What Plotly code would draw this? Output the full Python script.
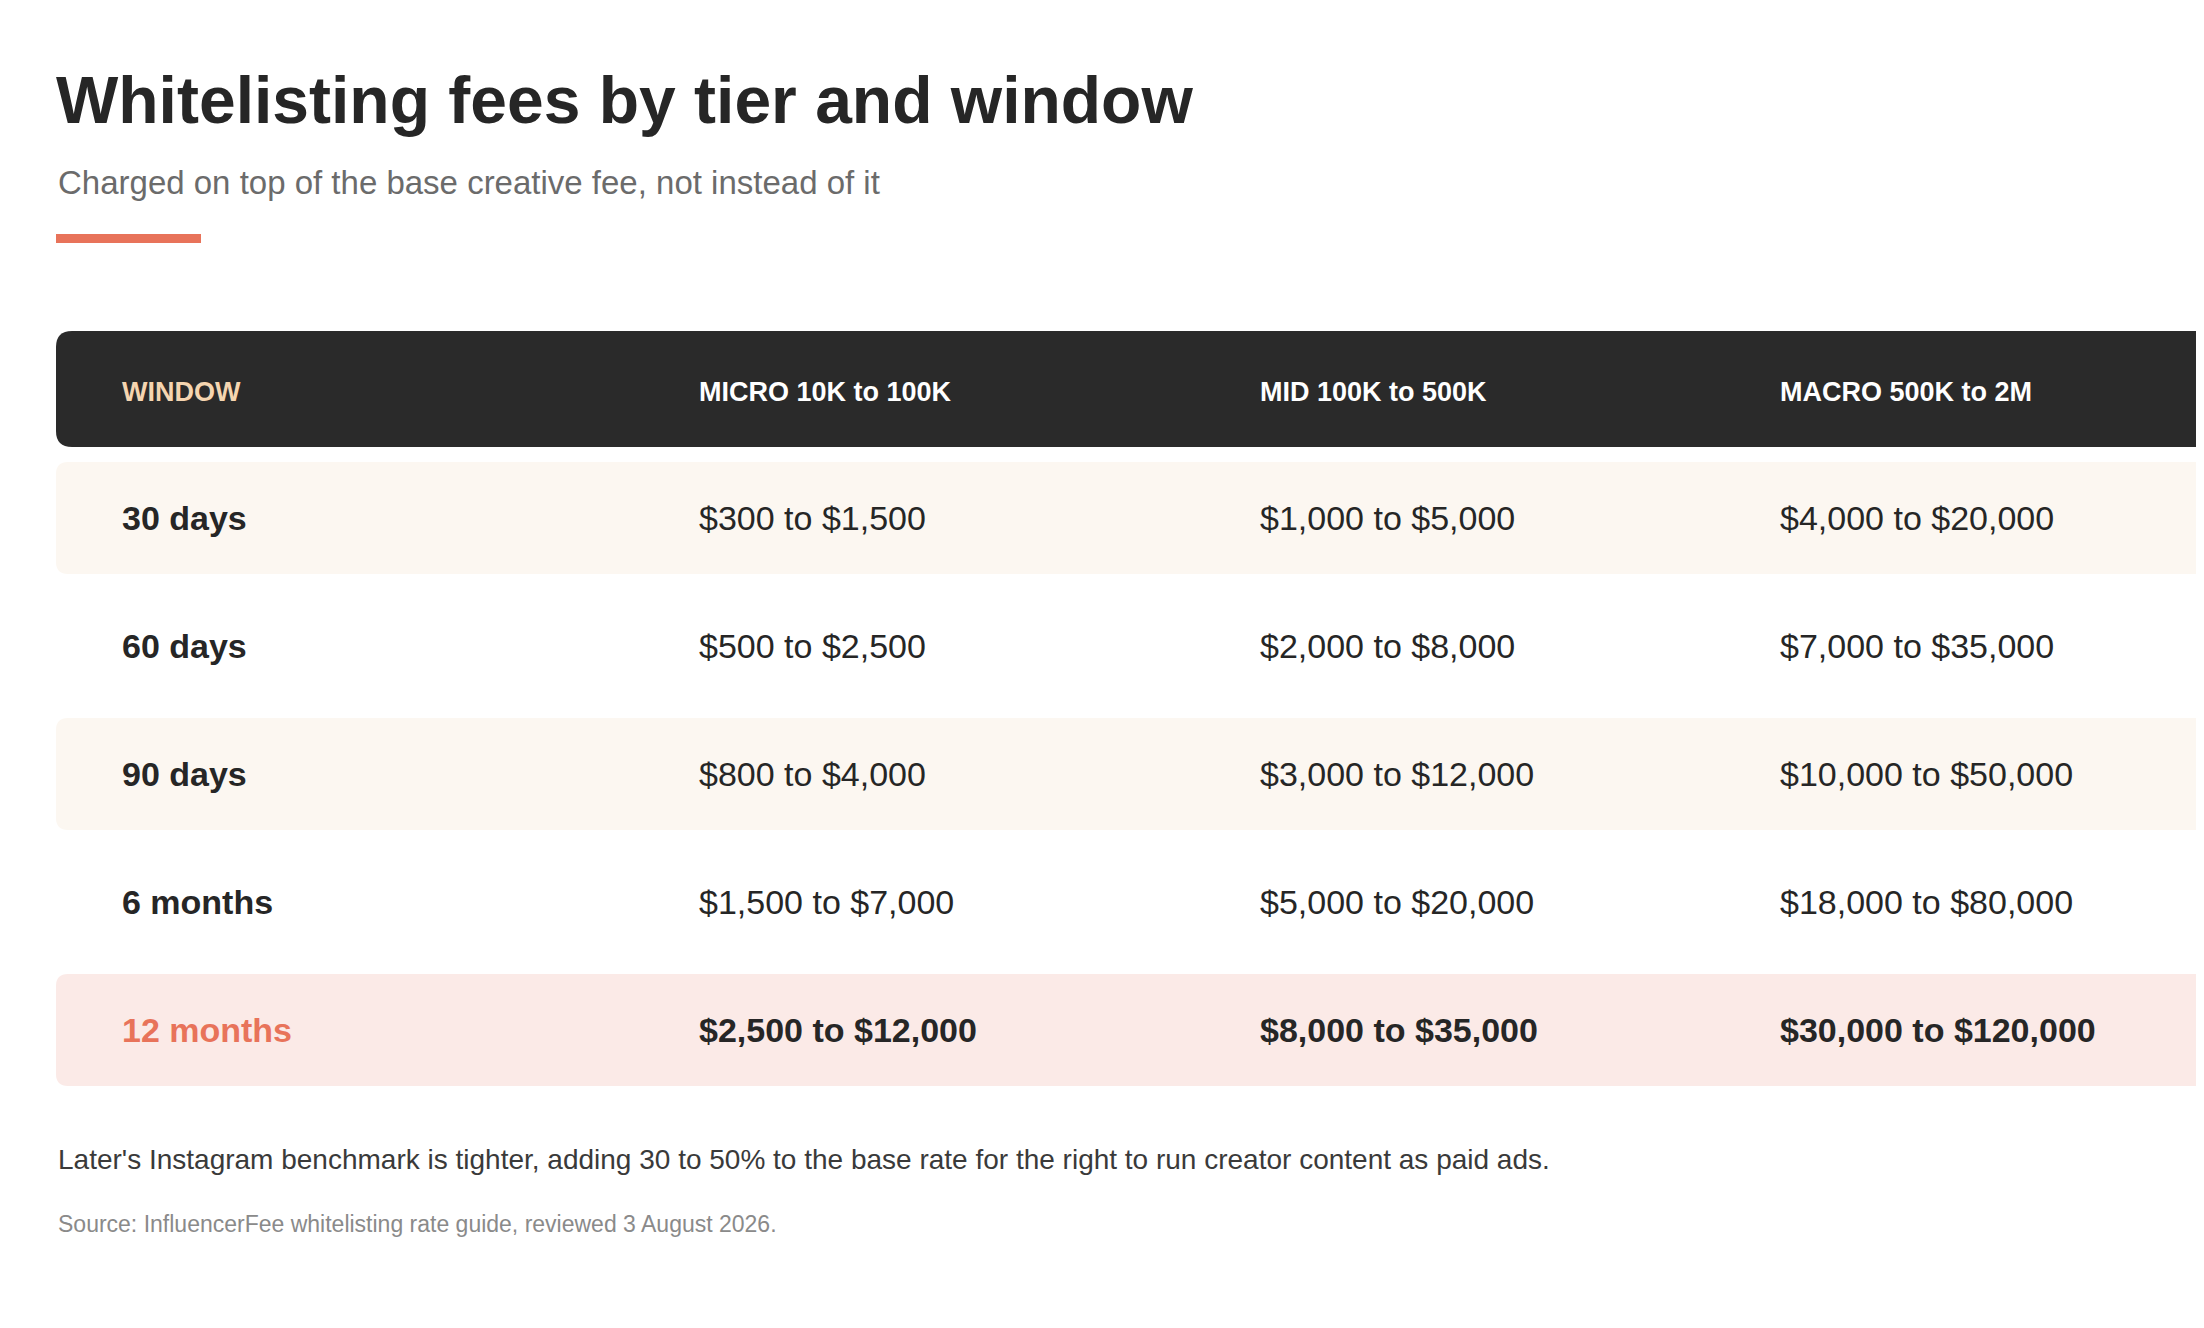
import plotly.graph_objects as go

title = "Whitelisting fees by tier and window"
subtitle = "Charged on top of the base creative fee, not instead of it"
columns = ["WINDOW", "MICRO 10K to 100K", "MID 100K to 500K", "MACRO 500K to 2M"]
windows = ["30 days", "60 days", "90 days", "6 months", "12 months"]
micro = ["$300 to $1,500", "$500 to $2,500", "$800 to $4,000", "$1,500 to $7,000", "$2,500 to $12,000"]
mid = ["$1,000 to $5,000", "$2,000 to $8,000", "$3,000 to $12,000", "$5,000 to $20,000", "$8,000 to $35,000"]
macro = ["$4,000 to $20,000", "$7,000 to $35,000", "$10,000 to $50,000", "$18,000 to $80,000", "$30,000 to $120,000"]
note = "Later's Instagram benchmark is tighter, adding 30 to 50% to the base rate for the right to run creator content as paid ads."
source = "Source: InfluencerFee whitelisting rate guide, reviewed 3 August 2026."

W, H = 2204, 1328
FONT = "Liberation Sans, Arial, sans-serif"
col_x = [112, 689, 1250, 1770]
row_top = 454
row_h = 128
row_pad = 16


def rounded(x0, y0, x1, y1, r):
    return (f"M{x0+r},{y0} L{x1-r},{y0} Q{x1},{y0} {x1},{y0+r} L{x1},{y1-r} "
            f"Q{x1},{y1} {x1-r},{y1} L{x0+r},{y1} Q{x0},{y1} {x0},{y1-r} "
            f"L{x0},{y0+r} Q{x0},{y0} {x0+r},{y0} Z")


shapes = [
    dict(type="rect", x0=48, x1=193, y0=226, y1=235, fillcolor="#e8735a", line_width=0),
    dict(type="path", path=rounded(48, 323, 2280, 439, 16), fillcolor="#2a2a2a", line_width=0),
]
annotations = [
    dict(x=46, y=92, text=f"<b>{title}</b>", font=dict(size=66, color="#262626", family=FONT)),
    dict(x=48, y=174, text=subtitle, font=dict(size=33, color="#6b6b6b", family=FONT)),
    dict(x=48, y=1151, text=note, font=dict(size=28, color="#3a3a3a", family=FONT)),
    dict(x=48, y=1216, text=source, font=dict(size=23, color="#8a8a8a", family=FONT)),
]
for i, c in enumerate(columns):
    annotations.append(dict(x=col_x[i], y=384, text=f"<b>{c}</b>",
                            font=dict(size=27, color="#f5d5b0" if i == 0 else "#ffffff", family=FONT)))

for r, win in enumerate(windows):
    y0 = row_top + r * row_h
    yc = y0 + (row_h - row_pad) / 2
    last = r == len(windows) - 1
    if r % 2 == 0:
        shapes.append(dict(type="path", path=rounded(48, y0, 2280, y0 + row_h - row_pad, 12),
                           fillcolor="#fbeae7" if last else "#fcf7f1", line_width=0))
    cells = [win, micro[r], mid[r], macro[r]]
    for i, t in enumerate(cells):
        bold = i == 0 or last
        color = "#e8735a" if (last and i == 0) else "#262626"
        annotations.append(dict(x=col_x[i], y=yc, text=f"<b>{t}</b>" if bold else t,
                                font=dict(size=34, color=color, family=FONT)))

for a in annotations:
    a.update(xref="x", yref="y", xanchor="left", yanchor="middle", showarrow=False)
for s in shapes:
    s.update(xref="x", yref="y", layer="below")

fig = go.Figure()
fig.update_layout(
    width=W, height=H, margin=dict(l=0, r=0, t=0, b=0),
    paper_bgcolor="white", plot_bgcolor="white",
    xaxis=dict(range=[0, W], visible=False, fixedrange=True),
    yaxis=dict(range=[H, 0], visible=False, fixedrange=True),
    shapes=shapes, annotations=annotations, showlegend=False,
)
fig.write_html("out.html", config={"displayModeBar": False})
